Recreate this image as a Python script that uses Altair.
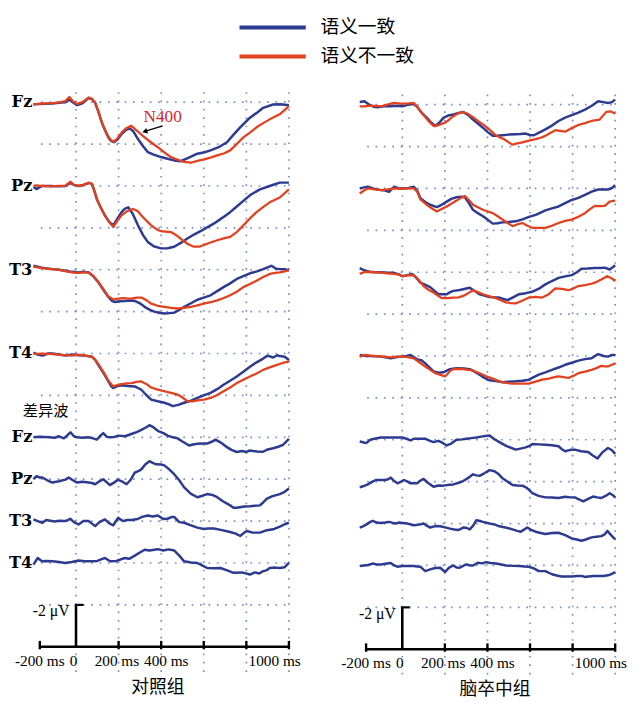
import altair as alt
import pandas as pd

# ---------------- data (μV, ERP convention: negative plotted upward) ----------------
CHANNELS = ["Fz", "Pz", "T3", "T4"]
CONDITIONS = ["语义一致", "语义不一致"]
GROUPS = ["对照组", "脑卒中组"]
COLORS = ["#2c3a8f", "#e3401d"]

# control group, congruent / incongruent
ctrl_fz_con = [(-200,0.1),(-150,0.08),(-111,0.06),(-70,0.02),(-50,0.0),(-31,-0.12),(-15,0.0),(5,0.14),(30,0.05),(59,-0.2),(75,-0.15),(90,0.03),(105,0.45),(121,0.97),(137,1.35),(152,1.68),(165,1.85),(178,1.91),(195,1.78),(214,1.52),(235,1.32),(252,1.25),(270,1.4),(291,1.76),(315,2.1),(337,2.38),(365,2.5),(399,2.62),(430,2.7),(461,2.78),(492,2.82),(530,2.65),(570,2.46),(600,2.4),(632,2.3),(670,2.15),(709,1.91),(740,1.55),(771,1.2),(817,0.74),(850,0.5),(879,0.27),(926,0.11),(960,0.1),(1000,0.15)]
ctrl_fz_inc = [(-200,0.1),(-150,0.06),(-111,0.04),(-70,0.0),(-50,-0.05),(-31,-0.25),(-15,-0.05),(5,0.08),(30,0.0),(59,-0.22),(75,-0.15),(90,0.03),(105,0.45),(121,0.95),(137,1.35),(152,1.65),(165,1.82),(178,1.88),(195,1.72),(214,1.45),(235,1.25),(260,1.13),(290,1.4),(322,1.68),(350,1.9),(384,2.15),(415,2.4),(446,2.62),(478,2.75),(508,2.85),(539,2.89),(570,2.8),(601,2.73),(632,2.65),(663,2.54),(694,2.45),(724,2.3),(755,2.0),(786,1.68),(817,1.45),(848,1.2),(879,1.0),(910,0.82),(957,0.58),(1000,0.19)]
ctrl_pz_con = [(-200,0.05),(-185,0.15),(-170,0.05),(-158,0.0),(-120,0.0),(-80,0.02),(-50,0.0),(-26,-0.15),(-10,-0.05),(12,0.0),(35,-0.05),(59,-0.15),(75,-0.1),(85,0.2),(98,0.63),(117,1.05),(136,1.41),(155,1.7),(175,1.88),(195,1.55),(214,1.25),(230,1.08),(245,1.02),(265,1.3),(291,1.88),(315,2.35),(337,2.67),(365,2.88),(399,2.98),(430,2.97),(461,2.9),(492,2.72),(523,2.51),(554,2.32),(585,2.16),(616,1.98),(647,1.8),(690,1.5),(724,1.25),(755,0.98),(786,0.71),(820,0.42),(864,0.16),(910,0.0),(957,-0.16),(1000,-0.16)]
ctrl_pz_inc = [(-200,0.0),(-185,-0.03),(-170,0.0),(-158,0.0),(-120,0.02),(-80,0.0),(-50,-0.02),(-26,-0.2),(-10,-0.05),(12,0.0),(35,-0.05),(59,-0.15),(75,-0.1),(85,0.2),(98,0.63),(117,1.05),(136,1.41),(155,1.72),(175,1.96),(195,1.65),(214,1.4),(240,1.2),(268,1.1),(290,1.2),(307,1.41),(330,1.65),(353,1.88),(376,2.05),(399,2.16),(420,2.18),(446,2.2),(475,2.38),(500,2.59),(527,2.78),(554,2.9),(578,2.9),(601,2.82),(632,2.7),(663,2.59),(694,2.5),(724,2.43),(755,2.2),(786,1.88),(817,1.55),(848,1.25),(880,1.0),(910,0.78),(957,0.55),(1000,0.16)]
ctrl_t3_con = [(-200,-0.19),(-160,-0.1),(-111,-0.03),(-80,0.0),(-50,0.05),(-20,0.1),(12,0.13),(35,0.1),(59,0.13),(80,0.3),(105,0.6),(130,0.98),(152,1.3),(168,1.48),(183,1.54),(205,1.5),(229,1.49),(255,1.47),(276,1.49),(300,1.6),(322,1.77),(345,1.9),(368,2.0),(390,2.05),(415,2.09),(440,2.07),(461,2.05),(485,1.92),(508,1.77),(540,1.6),(570,1.43),(600,1.33),(632,1.22),(663,1.02),(693,0.83),(724,0.65),(755,0.44),(786,0.3),(817,0.17),(850,0.08),(879,-0.03),(918,-0.19),(940,-0.05),(957,-0.03),(980,-0.02),(1000,0.02)]
ctrl_t3_inc = [(-200,-0.15),(-160,-0.08),(-111,-0.03),(-80,0.0),(-50,0.07),(-20,0.12),(12,0.15),(35,0.12),(59,0.12),(80,0.28),(105,0.58),(130,0.95),(152,1.28),(175,1.42),(198,1.38),(220,1.35),(240,1.37),(260,1.38),(285,1.33),(307,1.33),(330,1.45),(353,1.62),(384,1.72),(415,1.77),(446,1.82),(477,1.85),(508,1.82),(539,1.77),(570,1.7),(601,1.62),(632,1.55),(663,1.46),(694,1.35),(724,1.22),(755,1.05),(786,0.83),(817,0.68),(848,0.52),(879,0.35),(910,0.2),(935,0.15),(957,0.13),(980,0.08),(1000,0.02)]
ctrl_t4_con = [(-200,-0.05),(-180,0.05),(-158,0.1),(-130,0.0),(-111,0.0),(-80,0.05),(-50,0.1),(-20,0.05),(10,0.08),(43,0.1),(74,0.15),(90,0.3),(105,0.55),(130,0.95),(152,1.33),(165,1.55),(175,1.65),(195,1.55),(214,1.52),(245,1.55),(276,1.57),(307,1.73),(330,1.98),(353,2.2),(384,2.28),(415,2.35),(435,2.42),(454,2.51),(480,2.45),(508,2.35),(540,2.25),(570,2.12),(600,2.0),(632,1.88),(663,1.7),(693,1.49),(724,1.3),(755,1.1),(786,0.87),(817,0.63),(848,0.42),(879,0.24),(900,0.1),(926,0.19),(945,0.08),(957,0.12),(980,0.15),(1000,0.31)]
ctrl_t4_inc = [(-200,0.0),(-180,0.02),(-158,0.0),(-130,0.02),(-111,0.03),(-80,0.05),(-50,0.08),(-20,0.1),(10,0.05),(43,0.1),(74,0.15),(90,0.3),(105,0.5),(130,0.9),(152,1.3),(175,1.57),(195,1.5),(214,1.46),(240,1.43),(260,1.41),(285,1.35),(307,1.33),(330,1.45),(353,1.62),(384,1.72),(415,1.8),(446,1.88),(477,1.96),(500,2.1),(523,2.27),(546,2.28),(570,2.24),(601,2.2),(632,2.12),(663,1.98),(693,1.8),(724,1.62),(755,1.41),(786,1.25),(817,1.1),(848,0.95),(879,0.78),(910,0.66),(941,0.55),(970,0.45),(1000,0.39)]

# control group, difference waves
ctrl_fz_diff = [(-200,0.0),(-170,-0.03),(-127,0.0),(-100,0.02),(-80,-0.05),(-57,0.05),(-40,-0.1),(-26,-0.24),(-10,-0.05),(5,0.0),(30,0.02),(59,0.0),(80,0.05),(98,0.11),(112,-0.05),(128,-0.2),(145,-0.02),(159,0.0),(180,-0.02),(198,-0.08),(230,-0.05),(260,-0.16),(285,-0.25),(307,-0.36),(330,-0.48),(345,-0.58),(360,-0.5),(384,-0.31),(410,-0.2),(430,-0.08),(455,0.0),(477,0.05),(500,0.2),(531,0.39),(550,0.34),(570,0.31),(600,0.3),(616,0.3),(640,0.2),(655,0.11),(680,0.25),(709,0.47),(730,0.6),(755,0.7),(780,0.65),(800,0.7),(817,0.63),(850,0.68),(879,0.69),(900,0.58),(926,0.52),(950,0.45),(972,0.36),(1000,0.08)]
ctrl_pz_diff = [(-200,0.0),(-185,-0.15),(-170,-0.08),(-158,-0.08),(-135,0.05),(-111,0.16),(-80,0.1),(-50,0.02),(-34,-0.08),(-15,0.05),(5,0.16),(30,0.12),(59,0.16),(75,0.18),(90,0.24),(110,0.1),(128,0.0),(145,0.15),(159,0.28),(180,0.15),(198,0.03),(215,0.1),(237,0.24),(255,0.05),(276,-0.31),(295,-0.4),(307,-0.47),(325,-0.7),(345,-0.86),(360,-0.78),(376,-0.71),(400,-0.7),(415,-0.66),(440,-0.45),(461,-0.24),(485,0.05),(508,0.39),(540,0.7),(570,0.86),(590,0.8),(616,0.71),(640,0.75),(663,0.86),(690,1.05),(724,1.25),(740,1.36),(755,1.36),(790,1.3),(817,1.29),(840,1.27),(864,1.25),(880,1.1),(895,0.94),(920,0.82),(957,0.71),(980,0.6),(1000,0.44)]
ctrl_t3_diff = [(-200,-0.08),(-180,0.0),(-158,0.08),(-140,-0.05),(-127,-0.03),(-100,0.02),(-80,-0.02),(-50,0.0),(-26,-0.11),(-10,0.05),(12,0.16),(35,0.0),(59,0.0),(75,0.12),(90,0.24),(110,0.05),(136,-0.08),(155,0.1),(175,0.2),(198,-0.16),(220,0.0),(240,-0.05),(260,-0.05),(290,-0.1),(310,-0.2),(337,-0.27),(360,-0.22),(384,-0.27),(410,-0.1),(430,-0.11),(450,-0.2),(461,-0.2),(485,0.05),(508,0.08),(540,0.2),(570,0.31),(600,0.38),(620,0.35),(647,0.35),(680,0.42),(724,0.52),(750,0.6),(771,0.71),(790,0.55),(802,0.47),(830,0.55),(864,0.55),(890,0.45),(926,0.39),(960,0.25),(980,0.15),(1000,0.08)]
ctrl_t4_diff = [(-200,0.08),(-180,-0.24),(-160,-0.08),(-140,-0.1),(-111,-0.08),(-80,-0.05),(-50,0.0),(-20,-0.05),(12,-0.12),(40,-0.08),(74,-0.08),(100,-0.1),(136,-0.24),(160,-0.08),(190,-0.1),(229,-0.24),(250,-0.2),(276,-0.35),(300,-0.5),(322,-0.63),(345,-0.6),(384,-0.66),(410,-0.6),(435,-0.65),(461,-0.6),(485,-0.35),(508,-0.08),(540,-0.02),(570,0.0),(590,0.1),(616,0.24),(650,0.25),(678,0.24),(710,0.35),(740,0.47),(780,0.45),(817,0.55),(840,0.45),(860,0.5),(879,0.39),(895,0.35),(910,0.24),(935,0.22),(957,0.24),(980,0.2),(1000,0.0)]

# stroke group, congruent / incongruent
strk_fz_con = [(-200,-0.13),(-178,-0.16),(-155,0.0),(-135,0.1),(-116,0.13),(-85,0.08),(-54,0.08),(-25,0.05),(0,0.08),(30,0.0),(54,-0.03),(70,0.1),(85,0.31),(100,0.48),(116,0.63),(135,0.85),(155,1.02),(175,0.85),(193,0.63),(215,0.52),(240,0.47),(265,0.4),(286,0.35),(310,0.5),(332,0.71),(355,0.9),(379,1.1),(400,1.3),(425,1.49),(448,1.48),(471,1.46),(500,1.43),(533,1.41),(555,1.4),(580,1.38),(600,1.45),(618,1.46),(645,1.32),(672,1.18),(703,1.0),(734,0.78),(765,0.62),(796,0.5),(827,0.38),(858,0.24),(890,0.05),(920,-0.16),(945,-0.12),(966,-0.08),(985,-0.12),(1000,-0.24)]
strk_fz_inc = [(-200,0.08),(-178,0.08),(-155,0.05),(-130,0.06),(-100,0.08),(-70,0.0),(-39,-0.08),(-10,-0.05),(20,-0.05),(54,-0.08),(70,0.1),(85,0.31),(105,0.55),(125,0.8),(147,1.02),(170,0.98),(201,0.86),(220,0.72),(240,0.55),(265,0.4),(286,0.35),(310,0.45),(332,0.6),(355,0.78),(379,0.94),(405,1.15),(433,1.41),(455,1.55),(479,1.65),(500,1.8),(518,1.91),(540,1.85),(564,1.8),(595,1.72),(626,1.65),(650,1.58),(672,1.49),(695,1.35),(719,1.22),(740,1.25),(765,1.29),(796,1.12),(827,0.97),(858,0.88),(889,0.78),(927,0.71),(945,0.5),(958,0.35),(980,0.32),(1000,0.44)]
strk_pz_con = [(-200,0.0),(-180,-0.05),(-162,-0.08),(-130,0.02),(-100,0.08),(-80,0.1),(-62,0.16),(-39,-0.08),(-15,0.0),(8,0.0),(30,-0.02),(54,-0.08),(70,0.1),(85,0.47),(108,0.65),(131,0.78),(162,0.89),(185,0.78),(209,0.63),(230,0.5),(255,0.42),(275,0.4),(294,0.42),(313,0.7),(332,1.02),(355,1.18),(379,1.33),(402,1.5),(425,1.68),(448,1.66),(471,1.62),(500,1.6),(533,1.57),(565,1.48),(595,1.36),(630,1.25),(672,1.05),(703,0.95),(734,0.86),(765,0.7),(796,0.55),(827,0.45),(858,0.31),(890,0.15),(920,0.05),(966,0.05),(985,-0.02),(1000,-0.16)]
strk_pz_inc = [(-200,0.24),(-180,0.1),(-162,0.0),(-130,0.05),(-100,0.08),(-70,0.05),(-39,0.0),(-10,0.02),(20,0.0),(54,0.0),(70,0.15),(85,0.52),(108,0.72),(131,0.9),(162,1.1),(185,0.98),(209,0.86),(232,0.72),(255,0.58),(275,0.45),(294,0.36),(313,0.55),(332,0.78),(355,0.9),(379,1.02),(402,1.1),(425,1.18),(448,1.33),(471,1.49),(495,1.65),(518,1.8),(540,1.72),(564,1.65),(588,1.78),(610,1.88),(640,1.88),(672,1.88),(703,1.78),(734,1.65),(765,1.55),(796,1.49),(827,1.35),(858,1.18),(880,1.0),(904,0.83),(930,0.85),(951,0.83),(974,0.63),(1000,0.58)]
strk_t3_con = [(-200,-0.2),(-180,-0.1),(-155,-0.02),(-130,0.0),(-100,0.0),(-70,0.02),(-39,0.03),(-15,0.1),(0,0.19),(20,0.15),(46,0.08),(65,0.25),(85,0.5),(108,0.6),(131,0.71),(150,0.88),(170,1.05),(190,1.05),(209,1.05),(225,0.95),(240,0.89),(270,0.85),(317,0.74),(340,0.9),(363,1.05),(386,1.12),(410,1.18),(433,1.2),(456,1.21),(475,1.28),(495,1.33),(520,1.2),(549,1.05),(580,1.0),(611,0.93),(640,0.8),(672,0.58),(703,0.42),(734,0.27),(765,0.2),(796,0.14),(820,0.0),(842,-0.17),(870,-0.18),(904,-0.2),(930,-0.2),(951,-0.22),(974,-0.13),(990,-0.25),(1000,-0.33)]
strk_t3_inc = [(-200,0.08),(-180,0.0),(-155,-0.02),(-130,0.0),(-100,0.02),(-70,0.05),(-39,0.08),(-15,0.12),(0,0.19),(25,0.15),(54,0.14),(75,0.35),(100,0.66),(125,0.85),(147,0.97),(165,1.1),(185,1.24),(210,1.24),(240,1.21),(265,1.2),(286,1.13),(310,1.0),(332,0.86),(355,0.95),(379,1.05),(410,1.15),(440,1.24),(465,1.35),(487,1.44),(510,1.47),(533,1.49),(565,1.35),(595,1.21),(626,1.18),(657,1.21),(688,1.05),(719,0.77),(750,0.8),(780,0.86),(803,0.78),(827,0.66),(858,0.62),(889,0.55),(912,0.47),(935,0.35),(963,0.19),(985,0.3),(1000,0.42)]
strk_t4_con = [(-200,-0.05),(-170,0.0),(-140,0.0),(-100,0.03),(-54,0.11),(-25,0.05),(0,0.03),(20,0.0),(39,-0.05),(70,0.16),(90,0.2),(108,0.35),(125,0.52),(147,0.74),(170,0.8),(193,0.78),(209,0.7),(224,0.63),(245,0.6),(263,0.58),(290,0.6),(317,0.63),(340,0.75),(363,0.89),(386,1.05),(410,1.16),(440,1.2),(471,1.25),(500,1.23),(533,1.21),(565,1.18),(595,1.13),(620,1.0),(641,0.89),(672,0.78),(703,0.66),(734,0.55),(765,0.42),(796,0.32),(827,0.22),(858,0.15),(889,0.11),(905,0.0),(920,-0.09),(945,0.0),(966,0.03),(985,-0.05),(1000,-0.05)]
strk_t4_inc = [(-200,0.03),(-170,-0.05),(-140,0.0),(-100,0.02),(-54,0.06),(-25,0.03),(0,0.03),(25,0.05),(54,0.11),(80,0.3),(108,0.5),(130,0.65),(155,0.82),(180,0.9),(200,0.97),(209,0.9),(225,0.7),(240,0.63),(263,0.62),(286,0.63),(310,0.66),(332,0.69),(363,0.82),(394,0.97),(425,1.08),(456,1.21),(487,1.28),(518,1.32),(556,1.32),(595,1.32),(626,1.22),(657,1.13),(688,1.08),(719,1.0),(734,0.97),(750,1.0),(780,1.05),(803,0.95),(827,0.82),(858,0.75),(889,0.66),(912,0.58),(935,0.47),(950,0.5),(966,0.5),(985,0.42),(1000,0.35)]

# stroke group, difference waves
strk_fz_diff = [(-200,0.08),(-185,0.12),(-170,0.16),(-150,0.0),(-131,-0.05),(-100,-0.11),(-70,-0.11),(-30,-0.11),(0,-0.11),(20,-0.05),(39,0.03),(55,-0.05),(70,-0.05),(90,-0.05),(108,-0.05),(130,0.05),(147,0.11),(170,0.05),(190,0.15),(209,0.27),(230,0.18),(255,0.0),(280,-0.02),(301,-0.05),(325,-0.08),(348,-0.11),(371,-0.15),(390,-0.18),(410,-0.2),(430,-0.05),(456,0.11),(490,0.3),(533,0.47),(555,0.42),(580,0.36),(600,0.28),(611,0.2),(640,0.22),(672,0.24),(703,0.26),(734,0.31),(750,0.45),(765,0.55),(790,0.48),(811,0.47),(840,0.55),(873,0.58),(895,0.75),(917,0.89),(940,0.6),(966,0.39),(985,0.5),(1000,0.67)]
strk_pz_diff = [(-200,0.27),(-185,0.22),(-162,0.13),(-140,0.0),(-124,-0.08),(-100,-0.08),(-85,-0.08),(-70,-0.1),(-54,-0.19),(-40,-0.05),(-23,0.08),(-5,0.0),(8,-0.08),(25,0.0),(39,0.08),(55,0.06),(70,0.08),(85,-0.05),(100,-0.13),(120,0.05),(147,0.24),(170,0.18),(193,0.19),(220,0.15),(240,0.13),(265,0.05),(286,-0.03),(310,-0.18),(332,-0.35),(348,-0.3),(363,-0.28),(385,-0.4),(410,-0.55),(433,-0.5),(450,-0.38),(471,-0.16),(495,0.0),(518,0.16),(540,0.18),(564,0.19),(585,0.3),(611,0.55),(640,0.68),(672,0.75),(703,0.76),(734,0.78),(765,0.72),(790,0.75),(811,0.75),(830,0.85),(850,0.94),(873,0.82),(896,0.71),(915,0.75),(935,0.78),(955,0.68),(974,0.55),(990,0.65),(1000,0.75)]
strk_t3_diff = [(-200,0.19),(-185,0.13),(-170,0.05),(-150,-0.08),(-139,-0.13),(-120,-0.05),(-100,-0.03),(-80,-0.05),(-62,-0.08),(-45,-0.03),(-31,0.0),(-15,-0.05),(0,-0.03),(25,0.0),(54,0.08),(80,0.05),(100,0.0),(115,0.1),(131,0.19),(155,0.12),(178,0.13),(200,0.18),(224,0.24),(245,0.28),(263,0.31),(286,0.19),(300,0.2),(317,0.28),(333,0.1),(348,-0.16),(365,-0.12),(379,-0.08),(410,0.0),(435,0.05),(456,0.13),(490,0.2),(518,0.28),(540,0.35),(556,0.39),(570,0.3),(587,0.19),(605,0.3),(626,0.39),(650,0.45),(672,0.5),(703,0.45),(734,0.44),(765,0.55),(796,0.71),(820,0.76),(842,0.82),(865,0.75),(889,0.66),(912,0.63),(935,0.6),(950,0.52),(963,0.35),(985,0.6),(1000,0.75)]
strk_t4_diff = [(-200,0.03),(-180,0.0),(-160,-0.02),(-139,-0.09),(-120,-0.05),(-100,-0.05),(-80,-0.08),(-54,-0.12),(-38,0.0),(-23,0.06),(0,0.03),(15,0.03),(35,0.03),(54,0.03),(70,0.05),(85,0.06),(100,0.2),(108,0.27),(131,0.19),(155,0.12),(178,0.11),(201,0.31),(220,0.1),(240,0.0),(255,0.1),(270,0.11),(290,0.0),(301,-0.05),(320,0.0),(332,0.0),(355,-0.13),(375,-0.1),(394,-0.16),(415,-0.12),(440,-0.09),(465,-0.05),(487,0.0),(520,0.02),(549,0.03),(575,0.05),(595,0.06),(620,0.15),(641,0.27),(672,0.27),(703,0.42),(725,0.48),(749,0.53),(780,0.53),(796,0.53),(820,0.5),(842,0.5),(860,0.55),(873,0.53),(900,0.5),(920,0.5),(945,0.5),(966,0.47),(985,0.4),(1000,0.31)]

ERP = {
    "对照组": {
        "语义一致": [ctrl_fz_con, ctrl_pz_con, ctrl_t3_con, ctrl_t4_con],
        "语义不一致": [ctrl_fz_inc, ctrl_pz_inc, ctrl_t3_inc, ctrl_t4_inc],
        "diff": [ctrl_fz_diff, ctrl_pz_diff, ctrl_t3_diff, ctrl_t4_diff],
    },
    "脑卒中组": {
        "语义一致": [strk_fz_con, strk_pz_con, strk_t3_con, strk_t4_con],
        "语义不一致": [strk_fz_inc, strk_pz_inc, strk_t3_inc, strk_t4_inc],
        "diff": [strk_fz_diff, strk_pz_diff, strk_t3_diff, strk_t4_diff],
    },
}

TICKS = [200, 400, 600, 800, 1000]
GRID_T = [0, 200, 400, 600, 800, 1000]
TICK_LABELS = ["-200 ms", "0", "200 ms", "400 ms", "1000 ms"]
TICK_LABEL_T = [-170, -12, 192, 424, 933]

# ---------------- layout ----------------
PX_PER_MS = 0.216
PX_PER_UV = 21.25
H = 688
STEP = 2.0                       # μV between stacked traces / grid rows
TOP_OFFSETS = [26 - 2 * STEP * i for i in range(4)]
DIFF_OFFSETS = [10 - STEP * i for i in range(4)]
AXIS_START = -170

PANELS = [
    dict(group="对照组", left=8, width=314, zero_x=77, axis_y=651, first=True, title_t=384),
    dict(group="脑卒中组", left=322, width=306, zero_x=408, axis_y=653.5, first=False, title_t=435),
]

BLUE, RED = COLORS
GRID_COLOR = "#6f82c9"
SERIF = "Liberation Serif"
CJK = "Noto Sans CJK SC"


def build_lines(group):
    rows = []
    for cond in CONDITIONS:
        for i, ch in enumerate(CHANNELS):
            for t, v in ERP[group][cond][i]:
                rows.append(dict(series=f"{ch}-{cond}", cond=cond, t=t, y=TOP_OFFSETS[i] - v))
    for i, ch in enumerate(CHANNELS):
        for t, v in ERP[group]["diff"][i]:
            rows.append(dict(series=f"{ch}-diff", cond="语义一致", t=t, y=DIFF_OFFSETS[i] - v))
    return pd.DataFrame(rows)


def panel(p):
    xmin = -(p["zero_x"] - p["left"]) / PX_PER_MS
    xmax = xmin + p["width"] / PX_PER_MS
    ytop = (p["axis_y"] - 8) / PX_PER_UV
    ybot = ytop - H / PX_PER_UV
    xs = alt.Scale(domain=[xmin, xmax], nice=False, zero=False)
    ys = alt.Scale(domain=[ybot, ytop], nice=False, zero=False)

    def X(f):
        return alt.X(f, type="quantitative", scale=xs, axis=None)

    def Y(f):
        return alt.Y(f, type="quantitative", scale=ys, axis=None)

    layers = []
    # dotted grid
    vg = pd.DataFrame({"t": GRID_T, "y1": -1.2, "y2": 26.8})
    layers.append(alt.Chart(vg).mark_rule(color=GRID_COLOR, strokeWidth=1.7, strokeDash=[1.7, 6.8], opacity=0.9)
                  .encode(x=X("t"), y=Y("y1"), y2="y2"))
    hg = pd.DataFrame({"y": [STEP * k for k in range(1, 14)], "x1": -165, "x2": 1000})
    layers.append(alt.Chart(hg).mark_rule(color=GRID_COLOR, strokeWidth=1.7, strokeDash=[1.7, 6.8], opacity=0.9)
                  .encode(x=X("x1"), x2="x2", y=Y("y")))

    df = build_lines(p["group"])
    layers.append(alt.Chart(df[df.cond == "语义一致"]).mark_line(color=BLUE, strokeWidth=2.5, strokeJoin="round")
                  .encode(x=X("t"), y=Y("y"), detail="series:N", order="t:Q"))
    layers.append(alt.Chart(df[df.cond == "语义不一致"]).mark_line(color=RED, strokeWidth=2.3, strokeJoin="round")
                  .encode(x=X("t"), y=Y("y"), detail="series:N", order="t:Q"))

    # time axis
    ax = pd.DataFrame({"x1": [AXIS_START], "x2": [1000], "y": [0.0]})
    layers.append(alt.Chart(ax).mark_rule(color="black", strokeWidth=2.6)
                  .encode(x=X("x1"), x2="x2", y=Y("y")))
    tk = pd.DataFrame({"t": [AXIS_START] + TICKS, "y1": -0.12, "y2": 0.28})
    layers.append(alt.Chart(tk).mark_rule(color="black", strokeWidth=2.4)
                  .encode(x=X("t"), y=Y("y1"), y2="y2"))
    # -2 μV scale bar
    sb = pd.DataFrame({"t": [0], "y1": [0.0], "y2": [STEP]})
    layers.append(alt.Chart(sb).mark_rule(color="black", strokeWidth=2.6)
                  .encode(x=X("t"), y=Y("y1"), y2="y2"))
    cap = pd.DataFrame({"x1": [-5], "x2": [35], "y": [STEP]})
    layers.append(alt.Chart(cap).mark_rule(color="black", strokeWidth=2.2)
                  .encode(x=X("x1"), x2="x2", y=Y("y")))
    uv = pd.DataFrame({"t": [-30], "y": [STEP - 0.3], "txt": ["-2  μV"]})
    layers.append(alt.Chart(uv).mark_text(font=SERIF, fontSize=16, align="right", baseline="middle", color="black")
                  .encode(x=X("t"), y=Y("y"), text="txt"))
    tl = pd.DataFrame({"t": TICK_LABEL_T, "y": -0.66, "txt": TICK_LABELS})
    layers.append(alt.Chart(tl).mark_text(font=SERIF, fontSize=15.5, align="center", baseline="middle", color="black")
                  .encode(x=X("t"), y=Y("y"), text="txt"))
    ttl = pd.DataFrame({"t": [p["title_t"]], "y": [-1.95], "txt": [p["group"]]})
    layers.append(alt.Chart(ttl).mark_text(font=CJK, fontSize=18, align="center", baseline="middle", color="black")
                  .encode(x=X("t"), y=Y("y"), text="txt"))

    if p["first"]:
        lab = pd.DataFrame({"t": -205, "y": TOP_OFFSETS + DIFF_OFFSETS, "txt": CHANNELS + CHANNELS})
        layers.append(alt.Chart(lab).mark_text(font="DejaVu Serif", fontWeight="bold", fontSize=16.5,
                                               align="right", baseline="middle", color="black")
                      .encode(x=X("t"), y=Y("y"), text="txt"))
        dw = pd.DataFrame({"t": [-250], "y": [11.25], "txt": ["差异波"]})
        layers.append(alt.Chart(dw).mark_text(font=CJK, fontSize=15.5, align="left", baseline="middle", color="black")
                      .encode(x=X("t"), y=Y("y"), text="txt"))
        n4 = pd.DataFrame({"t": [407], "y": [25.27], "txt": ["N400"]})
        layers.append(alt.Chart(n4).mark_text(font=SERIF, fontSize=17.5, align="center", baseline="middle",
                                              color="#d6262a")
                      .encode(x=X("t"), y=Y("y"), text="txt"))
        ar = pd.DataFrame({"x1": [407], "x2": [327], "y1": [24.87], "y2": [24.62]})
        layers.append(alt.Chart(ar).mark_rule(color="black", strokeWidth=1.4)
                      .encode(x=X("x1"), x2="x2", y=Y("y1"), y2="y2"))
        ah = pd.DataFrame({"t": [323], "y": [24.6]})
        layers.append(alt.Chart(ah).mark_point(shape="triangle-up", filled=True, color="black", size=36, angle=252,
                                               opacity=1)
                      .encode(x=X("t"), y=Y("y")))
        lg = pd.DataFrame({"cond": CONDITIONS, "x1": 768, "x2": 1079, "tx": 1148, "y": [29.57, 28.18]})
        layers.append(alt.Chart(lg).mark_rule(strokeWidth=4)
                      .encode(x=X("x1"), x2="x2", y=Y("y"),
                              color=alt.Color("cond:N", scale=alt.Scale(domain=CONDITIONS, range=COLORS), legend=None)))
        layers.append(alt.Chart(lg).mark_text(font=CJK, fontSize=19, align="left", baseline="middle", color="black")
                      .encode(x=X("tx"), y=Y("y"), text="cond:N"))

    return alt.layer(*layers).properties(width=p["width"], height=H)


chart = (
    alt.hconcat(*[panel(p) for p in PANELS], spacing=0, bounds="flush")
    .properties(padding=0)
    .configure_view(stroke=None)
)

chart.save("out.html", embed_options={"renderer": "svg", "actions": False})
